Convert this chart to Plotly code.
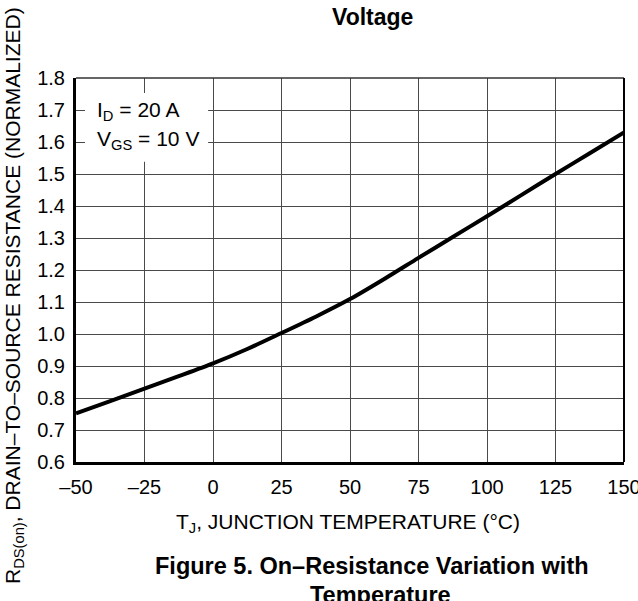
import plotly.graph_objects as go

# Data
temperature_c = [-50, -37.5, -25, -12.5, 0, 12.5, 25, 37.5, 50, 62.5, 75, 87.5, 100, 112.5, 125, 137.5, 150]
rds_norm = [0.752, 0.790, 0.829, 0.868, 0.908, 0.953, 1.003, 1.054, 1.109, 1.172, 1.238, 1.303, 1.368, 1.434, 1.500, 1.565, 1.630]
x_ticks = [-50, -25, 0, 25, 50, 75, 100, 125, 150]
y_ticks = [0.6, 0.7, 0.8, 0.9, 1.0, 1.1, 1.2, 1.3, 1.4, 1.5, 1.6, 1.7, 1.8]

FONT = "Liberation Sans, Arial, Helvetica, sans-serif"
GRID = "#4a4a4a"

fig = go.Figure()
fig.add_trace(go.Scatter(x=temperature_c, y=rds_norm, mode="lines",
                         line=dict(color="black", width=4, shape="spline", smoothing=0.8),
                         showlegend=False, hoverinfo="skip"))

W, H = 638, 601
L, R, T, B = 76, 14, 78, 139

fig.update_layout(
    width=W, height=H,
    margin=dict(l=L, r=R, t=T, b=B),
    paper_bgcolor="white", plot_bgcolor="white",
    font=dict(family=FONT, size=20, color="black"),
)
fig.update_xaxes(range=[-50, 150], tickvals=x_ticks,
                 ticktext=[("\u2013" + str(-v)) if v < 0 else str(v) for v in x_ticks],
                 showgrid=True, gridcolor=GRID, gridwidth=1.4,
                 showline=True, linecolor="black", linewidth=3,
                 ticks="", zeroline=False, ticklabelstandoff=5,
                 ticklabeloverflow="allow",
                 tickfont=dict(size=20, family=FONT), automargin=False)
fig.update_yaxes(range=[0.6, 1.8], tickvals=y_ticks, ticktext=[f"{v:.1f}" for v in y_ticks],
                 showgrid=True, gridcolor=GRID, gridwidth=1.4,
                 showline=True, linecolor="black", linewidth=3,
                 ticks="", zeroline=False, ticklabelstandoff=4,
                 ticklabeloverflow="allow",
                 tickfont=dict(size=20, family=FONT), automargin=False)

# top and right borders
fig.add_shape(type="line", xref="paper", yref="paper", x0=0, x1=1, y0=1, y1=1,
              line=dict(color="#333333", width=1.5))
fig.add_shape(type="line", xref="paper", yref="paper", x0=1, x1=1, y0=0, y1=1,
              line=dict(color="black", width=2))
# white box behind the test-condition text
fig.add_shape(type="rect", xref="x", yref="y", x0=-46.7, x1=-1.8, y0=1.538, y1=1.753,
              fillcolor="white", line=dict(width=0), layer="between")

conditions = ["I<sub>D</sub> = 20 A", "V<sub>GS</sub> = 10 V"]
cond_y = [1.697, 1.607]
for txt, yy in zip(conditions, cond_y):
    fig.add_annotation(x=-43.1, y=yy, xref="x", yref="y", text=txt,
                       showarrow=False, xanchor="left", yanchor="middle",
                       font=dict(size=21, family=FONT))

pw, ph = W - L - R, H - T - B

def px(xp):
    return (xp - L) / pw

def py(yp):
    return (H - B - yp) / ph

fig.add_annotation(x=px(348), y=py(523), xref="paper", yref="paper",
                   text="T<sub>J</sub>, JUNCTION TEMPERATURE (\u00b0C)", showarrow=False,
                   font=dict(size=21, family=FONT), xanchor="center", yanchor="middle")
fig.add_annotation(x=px(14), y=py(296), xref="paper", yref="paper",
                   text="R<sub>DS(on)</sub>, DRAIN\u2013TO\u2013SOURCE RESISTANCE (NORMALIZED)",
                   showarrow=False, textangle=-90,
                   font=dict(size=21, family=FONT), xanchor="center", yanchor="middle")
fig.add_annotation(x=px(372), y=py(17), xref="paper", yref="paper",
                   text="<b>Voltage</b>", showarrow=False,
                   font=dict(size=23, family=FONT), xanchor="center", yanchor="middle")
fig.add_annotation(x=px(372), y=py(566), xref="paper", yref="paper",
                   text="<b>Figure 5. On\u2013Resistance Variation with</b>", showarrow=False,
                   font=dict(size=23.5, family=FONT), xanchor="center", yanchor="middle")
fig.add_annotation(x=px(380), y=py(595), xref="paper", yref="paper",
                   text="<b>Temperature</b>", showarrow=False,
                   font=dict(size=23.5, family=FONT), xanchor="center", yanchor="middle")

fig.write_html("out.html", config={"displayModeBar": False},
               post_script="document.body.style.margin='0px';")
